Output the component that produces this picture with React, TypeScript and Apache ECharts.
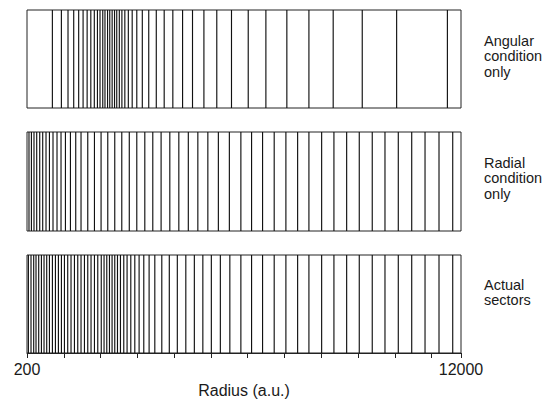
import React, { useEffect, useRef } from "react";
import * as echarts from "echarts";

const axisMin = 200;
const axisMax = 12000;
const axisLabels = [200, 12000];
const panelNames = ["Angular\ncondition\nonly", "Radial\ncondition\nonly", "Actual\nsectors"];

const angularRadii = [
  890, 1135, 1315, 1470, 1605, 1725, 1835, 1935, 2030, 2115, 2185, 2260, 2320, 2390, 2450, 2515,
  2580, 2640, 2710, 2780, 2860, 2955, 3060, 3185, 3335, 3510, 3715, 3930, 4165, 4430, 4700, 5010,
  5360, 5760, 6215, 6695, 7265, 7865, 8525, 9315, 10250, 11630,
];

const radialRadii = [
  254, 320, 390, 464, 546, 627, 717, 810, 907, 1016, 1125, 1245, 1381, 1525, 1669, 1852, 2034,
  2214, 2396, 2586, 2777, 2981, 3185, 3403, 3620, 3846, 4083, 4328, 4586, 4845, 5117, 5403, 5702,
  6015, 6306, 6605, 6921, 7239, 7558, 7865, 8211, 8545, 8891, 9234, 9587, 9933, 10295, 10660,
  11022, 11402, 11775,
];

const actualRadii = [
  238, 309, 382, 445, 518, 592, 663, 736, 810, 891, 973, 1054, 1136, 1218, 1307, 1397, 1490, 1580,
  1669, 1762, 1852, 1941, 2034, 2124, 2219, 2295, 2369, 2442, 2513, 2586, 2660, 2741, 2831, 2921,
  3022, 3131, 3248, 3375, 3520, 3675, 3865, 4069, 4287, 4518, 4750, 4981, 5212, 5457, 5715, 6015,
  6306, 6605, 6921, 7239, 7558, 7865, 8211, 8545, 8891, 9234, 9587, 9933, 10295, 10660, 11022,
  11402, 11775,
];

const panels = [angularRadii, radialRadii, actualRadii];

const FONT = "'Liberation Sans', Arial, Helvetica, sans-serif";

export default function App() {
  const ref = useRef<HTMLDivElement>(null);
  useEffect(() => {
    document.body.style.margin = "0";
    if (!ref.current) return;
    const chart = echarts.init(ref.current, undefined, { renderer: "svg" });
    const tops = [10, 132, 255];
    const heights = [98, 99, 98];
    const grids = tops.map((t, i) => ({
      left: 27,
      width: 434,
      top: t,
      height: heights[i],
      show: true,
      borderColor: "#222",
      borderWidth: 1,
      backgroundColor: "transparent",
    }));
    const xAxes = tops.map((_, i) => {
      const bottom = i === 2;
      return {
        type: "value",
        gridIndex: i,
        min: axisMin,
        max: axisMax,
        interval: 1000,
        splitLine: { show: false },
        axisLine: { show: bottom, lineStyle: { color: "#222", width: 1 } },
        axisTick: { show: bottom, length: 5, inside: false, lineStyle: { color: "#222" } },
        axisLabel: {
          show: bottom,
          fontSize: 16,
          fontFamily: FONT,
          color: "#1a1a1a",
          margin: 8,
          formatter: (v: number) => (axisLabels.includes(v) ? String(v) : ""),
        },
        name: bottom ? "Radius (a.u.)" : "",
        nameLocation: "middle",
        nameGap: 29,
        nameTextStyle: { fontSize: 16, fontFamily: FONT, color: "#1a1a1a" },
      };
    });
    const yAxes = tops.map((_, i) => ({ type: "value", gridIndex: i, min: 0, max: 1, show: false }));
    const series = panels.map((arr, i) => ({
      type: "custom",
      xAxisIndex: i,
      yAxisIndex: i,
      data: arr.map((v) => [v, 0]),
      renderItem: (_p: any, api: any) => {
        const x = api.value(0);
        const a = api.coord([x, 0]);
        const b = api.coord([x, 1]);
        return {
          type: "line",
          shape: { x1: a[0], y1: a[1], x2: b[0], y2: b[1] },
          style: { stroke: "#111", lineWidth: 1.15 },
        };
      },
    }));
    const textTops = [33, 155, 277];
    const graphic = panelNames.map((t, i) => ({
      type: "text",
      left: 484,
      top: textTops[i],
      style: { text: t, font: `14.5px ${FONT}`, fill: "#1a1a1a", lineHeight: 15.5 },
    }));
    chart.setOption({
      animation: false,
      grid: grids,
      xAxis: xAxes,
      yAxis: yAxes,
      series,
      graphic,
    });
    return () => chart.dispose();
  }, []);
  return <div ref={ref} style={{ width: 558, height: 401 }} />;
}
